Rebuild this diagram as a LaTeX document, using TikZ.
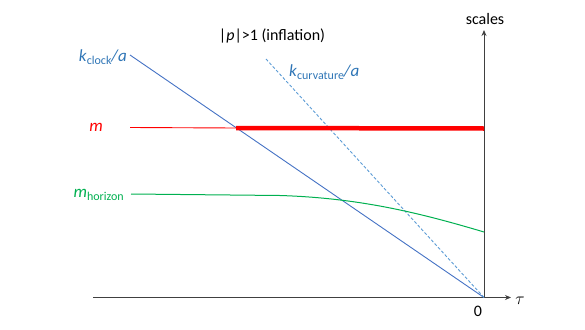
\documentclass[tikz,border=0pt]{standalone}
\usepackage{fontspec}
\setmainfont{Carlito}
\usetikzlibrary{arrows.meta}
\definecolor{lblblue}{RGB}{46,117,182}
\definecolor{lineblue}{RGB}{68,114,196}
\definecolor{dashblue}{RGB}{91,155,213}
\definecolor{myred}{RGB}{255,0,0}
\definecolor{mygreen}{RGB}{0,176,80}
\newcommand\lsub[1]{\raisebox{-0.4ex}{\fontsize{12}{12}\selectfont #1}}
\tikzset{
  lbl/.style={inner sep=0pt, font=\fontsize{16}{18}\selectfont},
  clbl/.style={inner sep=0pt, font=\fontsize{17}{19}\selectfont},
  axisline/.style={draw=black!75, line width=0.9pt},
}
\begin{document}
\begin{tikzpicture}[x=1pt,y=-1pt]
\useasboundingbox (0,0) rectangle (585,329);
% coordinates
\coordinate (xs) at (93,297.5);
\coordinate (xe) at (511,297.5);
\coordinate (o) at (484,297.5);
\coordinate (ye) at (484,30);
\coordinate (kc0) at (130,55);
\coordinate (kv0) at (266,59);
\coordinate (m0) at (130,127.5);
\coordinate (m1) at (236,128);
\coordinate (m2) at (484,128.5);
\coordinate (h0) at (131,194);
\coordinate (h1) at (280,195.5);
\coordinate (h2) at (484,232);
% axes
\draw[axisline, -{Stealth[length=6pt,width=5pt]}] (xs) -- (xe);
\draw[axisline, -{Stealth[length=6pt,width=5pt]}] (o) -- (ye);
% lines
\draw[lineblue, line width=0.9pt] (kc0) -- (o);
\draw[dashblue, line width=0.9pt, dash pattern=on 3pt off 2pt] (kv0) -- (o);
\draw[myred, line width=0.9pt] (m0) -- (m1);
\draw[myred, line width=4.5pt] (m1) -- (m2);
\draw[mygreen, line width=1pt] (h0) -- (h1) .. controls (360,198) and (420,213) .. (h2);
% labels
\node[lbl, anchor=center] (title) at (272,35.5) {|\textit{p}|>1 (inflation)};
\node[lbl, anchor=center] (scales) at (485,19) {scales};
\node[lbl, anchor=center] (tau) at (520,301) {$\tau$};
\node[lbl, anchor=center] (zero) at (478,311) {0};
\node[clbl, lblblue, anchor=east] (lkc) at (127,57) {\textit{k}\lsub{clock}\textit{/a}};
\node[clbl, lblblue, anchor=west] (lkv) at (289,72) {\textit{k}\lsub{curvature}\textit{/a}};
\node[clbl, myred, anchor=east] (lm) at (103,127) {\textit{m}};
\node[clbl, mygreen, anchor=east] (lh) at (124,195) {\textit{m}\lsub{horizon}};
\end{tikzpicture}
\end{document}
